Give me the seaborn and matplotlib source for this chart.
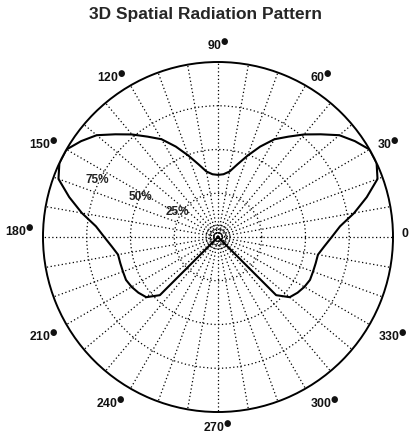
import numpy as np
import pandas as pd
import matplotlib
matplotlib.use("Agg")
import matplotlib.pyplot as plt
import seaborn as sns

# radiation pattern samples (angle in degrees, normalised gain)
angle_deg = [-45, -45, -40, -35, -30, -25, -20, -15, -10, -5, 0, 5, 10, 15, 20, 25, 30,
             35, 40, 45, 50, 55, 60, 65, 70, 75, 80, 85, 90, 95, 100, 105, 110, 115,
             120, 125, 130, 135, 140, 145, 150, 155, 160, 165, 170, 175, 180, 185, 190,
             195, 200, 205, 210, 215, 220, 225, 225]
gain = [0.0, 0.47, 0.535, 0.555, 0.57, 0.58, 0.578, 0.578, 0.58, 0.61, 0.65, 0.70, 0.79,
        0.88, 0.97, 1.0, 1.0, 0.955, 0.905, 0.83, 0.765, 0.70, 0.645, 0.57, 0.495, 0.43,
        0.38, 0.36, 0.355, 0.36, 0.38, 0.43, 0.495, 0.57, 0.645, 0.70, 0.765, 0.83,
        0.905, 0.955, 1.0, 1.0, 0.97, 0.88, 0.79, 0.70, 0.65, 0.61, 0.58, 0.578, 0.578,
        0.58, 0.57, 0.555, 0.535, 0.47, 0.0]

ring_levels = [0.023, 0.038, 0.053, 0.069, 0.25, 0.5, 0.75]
ring_labels = ['25%', '50%', '75%']
ring_label_pos = [(148.5, 0.27), (152.9, 0.50), (154.8, 0.764)]
spoke_angles = list(range(0, 360, 10))
label_angles = [0, 30, 60, 90, 120, 150, 180, 210, 240, 270, 300, 330]

sns.set_theme(style="white")
plt.rcParams['font.family'] = ['Liberation Sans', 'DejaVu Sans']

df = pd.DataFrame({'theta': np.deg2rad(angle_deg), 'r': gain})

fig = plt.figure(figsize=(4.11, 4.36), dpi=100)
ax = fig.add_axes([0.1046, 0.055, 0.8516, 0.8028], projection='polar')

sns.lineplot(data=df, x='theta', y='r', sort=False, estimator=None,
             color='black', linewidth=1.5, ax=ax)

ax.set_ylim(0, 1)
ax.set_rgrids(ring_levels, labels=[''] * len(ring_levels))
ax.set_thetagrids(spoke_angles, [''] * len(spoke_angles))
ax.grid(True, color='black', linestyle=(0, (1, 2)), linewidth=0.9)
ax.spines['polar'].set_linewidth(1.4)
ax.spines['polar'].set_color('black')
ax.set_xlabel('')
ax.set_ylabel('')

# angle labels outside the rim, MATLAB style
for a in label_angles:
    txt = '0' if a == 0 else f'{a}' + '$^{\u25CF}$'
    if a in (0, 180):
        r, va = 1.05, 'baseline'
    elif a == 90:
        r, va = 1.05, 'bottom'
    elif a == 270:
        r, va = 1.05, 'top'
    elif a < 180:
        r, va = 1.05, 'center'
    else:
        r, va = 1.055, 'top'
    c = np.cos(np.deg2rad(a))
    ha = 'center' if abs(c) < 0.1 else ('left' if c > 0 else 'right')
    ax.text(np.deg2rad(a), r, txt, ha=ha, va=va, fontsize=8.8,
            fontweight='bold', color='#111111', clip_on=False)

for txt, (a, r) in zip(ring_labels, ring_label_pos):
    ax.text(np.deg2rad(a), r, txt, ha='center', va='center',
            fontsize=8.5, fontweight='bold', color='#222222')

fig.text(0.5, 1 - 15 / 436, '3D Spatial Radiation Pattern', ha='center', va='center',
         fontsize=12.5, fontweight='bold')

fig.savefig('out.png', dpi=100, facecolor='white')
